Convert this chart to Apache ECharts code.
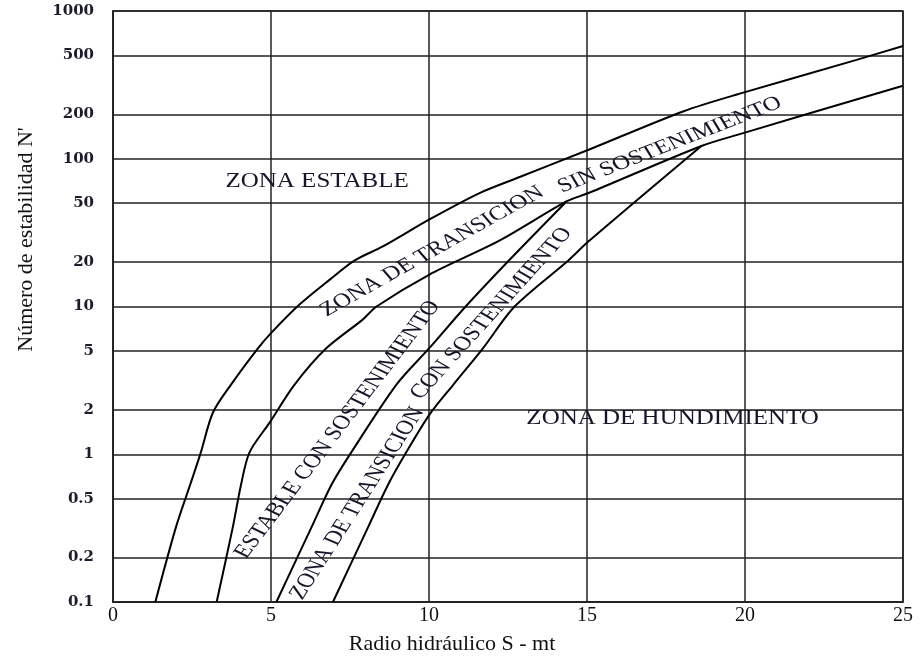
<!DOCTYPE html>
<html>
<head>
<meta charset="utf-8">
<script src="https://cdn.jsdelivr.net/npm/echarts@6/dist/echarts.min.js"></script>
<style>
html,body{margin:0;padding:0;background:#fff;}
#chart{width:921px;height:660px;}
</style>
</head>
<body>
<div id="chart"></div>
<script>
// ---- data ----
const xTicks = [0, 5, 10, 15, 20, 25];
const yTicks = [0.1, 0.2, 0.5, 1, 2, 5, 10, 20, 50, 100, 200, 500, 1000];

// [Radio hidráulico S (m), Número de estabilidad N']
const limitEstable = [[1.34,0.1],[1.99,0.32],[2.44,0.62],[2.78,1.03],[3.16,1.91],[3.73,2.95],[4.58,5.19],[5.0,6.6],[5.9,10.3],[6.86,15.2],[7.65,20.5],[8.54,25.5],[10.0,38.7],[11.6,58.6],[12.87,75.2],[15.05,115],[18.04,209],[19.89,278],[23.53,467],[25,580]];
const limitTransicion = [[3.28,0.1],[3.79,0.32],[4.05,0.62],[4.32,1.03],[4.95,1.63],[5.74,2.95],[6.74,5.19],[7.9,8.15],[8.34,10.0],[10.0,16.4],[12.24,28],[14.35,51.4],[15.05,58.6],[18.62,122],[19.89,148],[25,312]];
const limitEstableConSost = [[5.17,0.1],[6.28,0.32],[6.91,0.62],[7.54,1.03],[8.97,2.96],[10.0,5.2],[11.16,10.0],[12.52,20.4],[14.35,51.4]];
const limitTransicionConSost = [[6.96,0.1],[8.07,0.32],[8.7,0.62],[9.28,1.03],[10.02,1.86],[10.76,2.94],[11.7,5.19],[12.71,10.0],[14.4,20.4],[15.05,27.6],[18.62,122]];

const zoneTexts = ['ZONA ESTABLE','ZONA DE TRANSICION','SIN SOSTENIMIENTO','ESTABLE CON SOSTENIMIENTO','ZONA DE TRANSICION','CON SOSTENIMIENTO','ZONA DE HUNDIMIENTO'];
const zoneAnchors = [[6.46,69.5],[10.1,23.6],[17.62,124],[7.11,1.47],[7.73,0.465],[11.97,8.96],[17.71,1.74]];
const zoneAngles = [0, 29.2, 21.3, 52.6, 57.2, 47.8, 0];

// ---- chart ----
const serif = '"Liberation Serif", "Times New Roman", serif';
const chart = echarts.init(document.getElementById('chart'), null, {renderer: 'canvas'});

function lineSeries(name, data) {
  return {
    name: name, type: 'line', data: data, symbol: 'none', smooth: 0.3,
    silent: true, animation: false,
    lineStyle: {color: '#000', width: 2}
  };
}

const option = {
  backgroundColor: '#fff',
  animation: false,
  grid: {left: 113, right: 18, top: 11, bottom: 57, show: true, borderColor: '#222', borderWidth: 1.5},
  xAxis: {
    type: 'value', min: xTicks[0], max: xTicks[xTicks.length - 1], interval: 5,
    name: 'Radio hidráulico S - mt', nameLocation: 'middle', nameGap: 31,
    nameTextStyle: {fontFamily: serif, fontSize: 22, color: '#111', padding: [0, 112, 0, 0]},
    axisLine: {lineStyle: {color: '#222', width: 1.5}},
    axisTick: {show: false},
    axisLabel: {fontFamily: serif, fontSize: 20, color: '#111', margin: 4},
    splitLine: {show: true, lineStyle: {color: '#222', width: 1.5}}
  },
  yAxis: {
    type: 'log', logBase: 10, min: yTicks[0], max: yTicks[yTicks.length - 1],
    name: 'Número de estabilidad N\'', nameLocation: 'middle', nameGap: 76,
    nameTextStyle: {fontFamily: serif, fontSize: 22, color: '#111', padding: [0, 0, 0, 134]},
    axisLine: {lineStyle: {color: '#222', width: 1.5}},
    axisTick: {show: false, customValues: yTicks},
    minorTick: {show: false},
    axisLabel: {
      customValues: yTicks, fontFamily: '"DejaVu Serif", serif', fontSize: 15, fontWeight: 'bold',
      color: '#1c1c2c', margin: 19,
      formatter: function (v) { return String(+(+v).toPrecision(6)); }
    },
    splitLine: {show: true, lineStyle: {color: '#222', width: 1.5}}
  },
  series: [
    lineSeries('Límite zona estable', limitEstable),
    lineSeries('Límite zona de transición', limitTransicion),
    lineSeries('Límite estable con sostenimiento', limitEstableConSost),
    lineSeries('Límite transición con sostenimiento', limitTransicionConSost)
  ]
};
chart.setOption(option);

// zone annotations anchored in data coordinates; the reference print is stretched horizontally
const stretch = 1.25;
const graphics = zoneTexts.map(function (t, i) {
  const p = chart.convertToPixel({xAxisIndex: 0, yAxisIndex: 0}, zoneAnchors[i]);
  const a = zoneAngles[i] * Math.PI / 180;
  const rot = Math.atan(stretch * Math.tan(a));
  return {
    type: 'group', x: p[0], y: p[1], scaleX: stretch, silent: true,
    children: [{
      type: 'text', rotation: rot,
      style: {
        text: t, font: '20px ' + serif, fill: '#15152a',
        align: 'center', verticalAlign: 'middle',
        textAlign: 'center', textVerticalAlign: 'middle'
      }
    }]
  };
});
chart.setOption({graphic: graphics});
</script>
</body>
</html>
